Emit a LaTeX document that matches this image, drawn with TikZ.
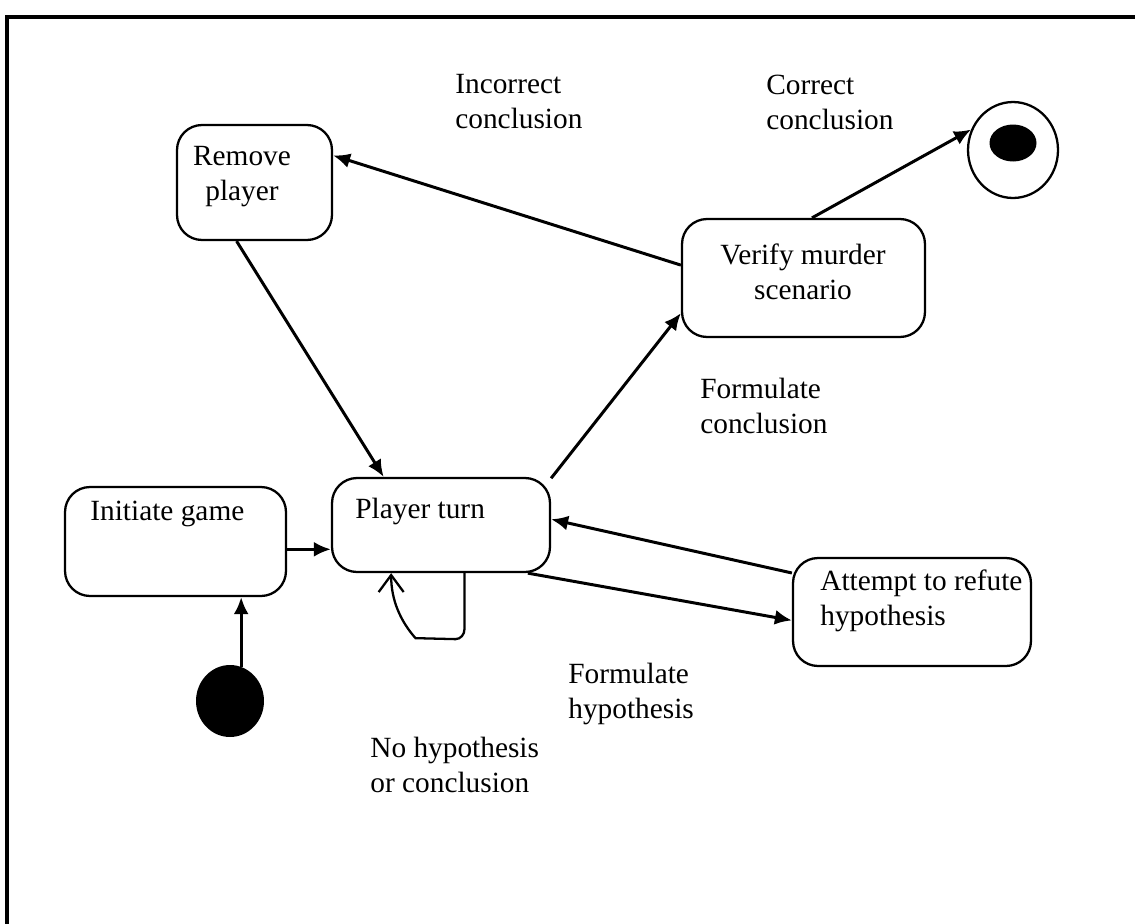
\documentclass[tikz,border=0pt]{standalone}
\usepackage{fontspec}
\setmainfont{Liberation Serif}
\usetikzlibrary{arrows.meta}
\usetikzlibrary{shapes.geometric}

\begin{document}
\begin{tikzpicture}[x=0.02cm, y=-0.02cm,
    font=\fontsize{16.7}{19.9}\selectfont,
    state/.style={draw, rounded corners=0.5cm, line width=1.3pt},
    lbl/.style={align=left, anchor=west, inner sep=0pt},
    arr/.style={-{Latex[length=0.34cm,width=0.3cm]}, line width=1.7pt}]
    \useasboundingbox (0,0) rectangle (1135,923);
    \begin{scope}
      \clip (0,0) rectangle (1135,923);
      \draw[line width=2.2pt] (7,17) rectangle (1200,1000);
    \end{scope}
    % states
    \node[state, minimum width=3.1cm, minimum height=2.3cm] at (254.5,182.5) (remove) {};
    \node[state, minimum width=4.86cm, minimum height=2.36cm] at (803.5,278) (verify) {};
    \node[state, minimum width=4.42cm, minimum height=2.18cm] at (175.5,541.5) (initgame) {};
    \node[state, minimum width=4.36cm, minimum height=1.88cm] at (441,525) (player) {};
    \node[state, minimum width=4.76cm, minimum height=2.16cm] at (912,612) (attempt) {};
    \node[ellipse, draw, line width=1.3pt, minimum width=1.8cm, minimum height=1.92cm] at (1013,150) (final) {};
    \node[ellipse, fill, minimum width=0.94cm, minimum height=0.74cm] at (1013,143) (finaldot) {};
    \node[ellipse, fill, minimum width=1.36cm, minimum height=1.44cm] at (230,701) (start) {};
    % state texts
    \node[align=center, inner sep=0pt] at (242,177) (tremove) {Remove\\player};
    \node[align=center, inner sep=0pt] at (803,272) (tverify) {Verify murder\\scenario};
    \node[lbl] at (90,514) (tinit) {Initiate game};
    \node[lbl] at (355,511) (tplayer) {Player turn};
    \node[lbl] at (820,601) (tattempt) {Attempt to refute\\hypothesis};
    % transition labels
    \node[lbl] at (455,102) (lincorrect) {Incorrect\\conclusion};
    \node[lbl] at (766,102) (lcorrect) {Correct\\conclusion};
    \node[lbl] at (700,406) (lconcl) {Formulate\\conclusion};
    \node[lbl] at (568,694) (lhyp) {Formulate\\hypothesis};
    \node[lbl] at (370,765) (lnone) {No hypothesis\\or conclusion};
    % transitions
    \draw[arr] (start.72) -- (start.72 |- initgame.south);
    \draw[arr] (initgame.-4) -- (player.west |- initgame.-4);
    \draw[arr] (remove.-107) -- (player.140);
    \draw[arr] (player.23) -- (verify.196);
    \draw[arr] (verify.174) -- (remove.19);
    \draw[arr] (verify.82) -- (final.154);
    \draw[arr] (attempt.162) -- (player.3);
    \draw[arr] (player.-29) -- (attempt.184);
    \draw[-{Straight Barb[length=0.34cm,width=0.5cm]}, line width=1.3pt]
      (player.-64) -- ++(0,56) to[out=-90,in=0] ++(-9,10) -- ++(-40,-1)
      .. controls +(-15,-17) and +(0,27) .. (player.-136);
\end{tikzpicture}
\end{document}
